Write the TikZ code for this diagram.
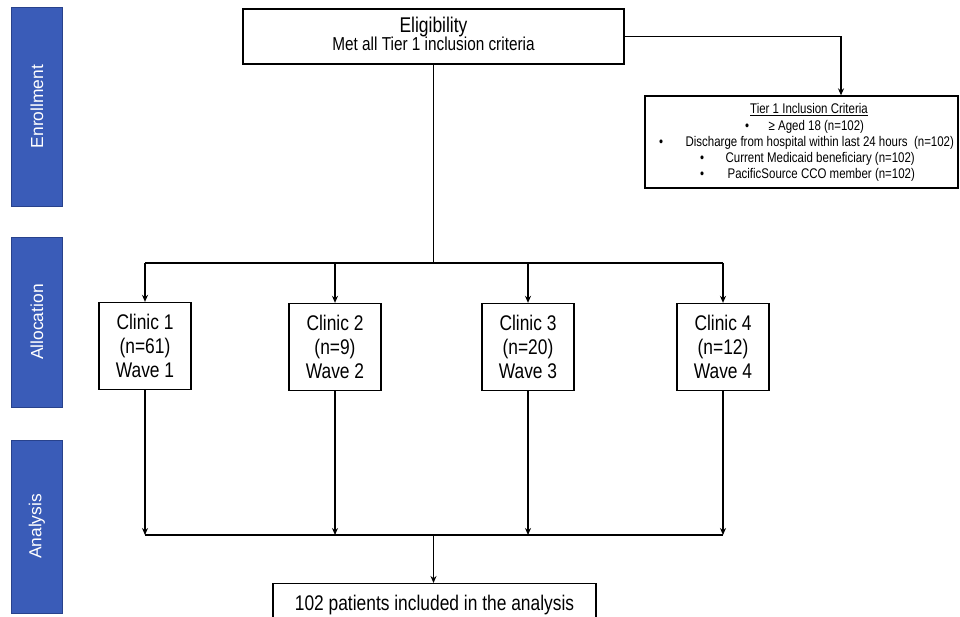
\documentclass[tikz,border=0pt]{standalone}
\usepackage{fontspec}
\setmainfont{Liberation Sans}
\newfontfamily\narrowfont[FakeStretch=0.82]{Liberation Sans}
\usetikzlibrary{arrows.meta,calc}
\definecolor{sideblue}{RGB}{58,92,184}
\definecolor{sideedge}{RGB}{40,66,140}
\begin{document}
\begin{tikzpicture}[x=1pt,y=-1pt,
  line width=1.3pt,
  arr/.style={-{Stealth[length=7pt,width=6pt]}},
  sidebox/.style={draw=sideedge,line width=0.8pt,fill=sideblue,rotate=90,minimum height=51pt,text=white,font=\fontsize{17.4}{20}\selectfont,inner sep=0pt},
  clinic/.style={draw,minimum width=92pt,minimum height=87pt,align=center,font=\narrowfont\fontsize{21.2}{24}\selectfont,inner sep=0pt},
  box/.style={draw,inner sep=0pt},
  crittext/.style={font=\narrowfont\fontsize{14}{16}\selectfont,inner sep=0pt,anchor=base west},
  critbullet/.style={font=\narrowfont\fontsize{14}{16}\selectfont,inner sep=0pt,anchor=base},
]
\useasboundingbox (0,0) rectangle (960,617);
\clip (0,0) rectangle (960,617);

% side labels
\node[sidebox,minimum width=199pt] (enr) at (37,106.5) {Enrollment};
\node[sidebox,minimum width=170pt] (all) at (37,322) {Allocation};
\node[sidebox,minimum width=173pt] (ana) at (37,526.5) {Analysis};

% eligibility box
\node[box,minimum width=381pt,minimum height=55pt] (elig) at (433.5,36.5) {};
\node[inner sep=0pt,anchor=base,font=\narrowfont\fontsize{21.3}{24}\selectfont] (eligt1) at (433.5,33) {Eligibility};
\node[inner sep=0pt,anchor=base,font=\narrowfont\fontsize{18.7}{21}\selectfont] (eligt2) at (433.5,51) {Met all Tier 1 inclusion criteria};

% criteria box
\node[box,minimum width=313pt,minimum height=92pt] (crit) at (801.5,142) {};
\node[critbullet] (ct0) at (809,114) {\underline{Tier 1 Inclusion Criteria}};
\node[critbullet] (cb1) at (747,131) {•};
\node[crittext] (ct1) at (768,131) {≥ Aged 18 (n=102)};
\node[critbullet] (cb2) at (661,147) {•};
\node[crittext] (ct2) at (685,147) {Discharge from hospital within last 24 hours\ \ (n=102)};
\node[critbullet] (cb3) at (702,163) {•};
\node[crittext] (ct3) at (725,163) {Current Medicaid beneficiary (n=102)};
\node[critbullet] (cb4) at (702,179) {•};
\node[crittext] (ct4) at (727,179) {PacificSource CCO member (n=102)};

% clinics
\node[clinic] (c1) at (145,346) {Clinic 1\\(n=61)\\Wave 1};
\node[clinic] (c2) at (335,347) {Clinic 2\\(n=9)\\Wave 2};
\node[clinic] (c3) at (528,347) {Clinic 3\\(n=20)\\Wave 3};
\node[clinic] (c4) at (723,347) {Clinic 4\\ (n=12)\\Wave 4};

% final box
\node[box,anchor=north,minimum width=323pt,inner ysep=12pt,text height=15pt,text depth=30pt,font=\narrowfont\fontsize{21.2}{24}\selectfont] (final) at (434.5,583) {102 patients included in the analysis};

% helper coordinates
\coordinate (critx) at (841,0);
\coordinate (split) at (433.5,263);
\coordinate (join) at (433.5,535);

% connectors
\draw[arr] (elig.east) -| (crit.north -| critx);
\draw (elig.south) -- (split);
\draw (c1 |- split) -- (c4 |- split);
\foreach \c in {c1,c2,c3,c4}{
  \draw[arr] (\c |- split) -- (\c.north);
  \draw[arr] (\c.south) -- (\c |- join);
}
\draw (c1 |- join) -- (c4 |- join);
\draw[arr] (join) -- (final.north -| join);
\end{tikzpicture}
\end{document}
